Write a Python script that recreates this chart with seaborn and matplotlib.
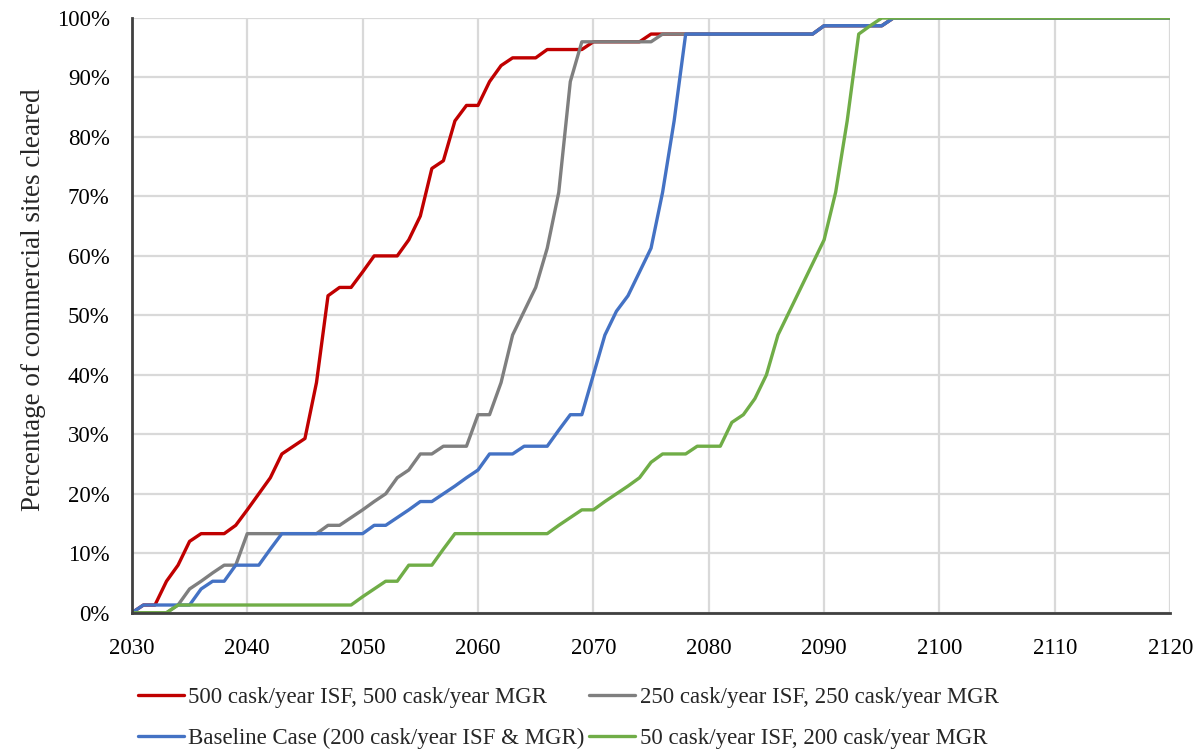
import pandas as pd
import seaborn as sns
import matplotlib.pyplot as plt
from matplotlib.ticker import PercentFormatter

sns.set_theme(style='whitegrid')
plt.rcParams['font.family'] = ['Liberation Serif', 'DejaVu Serif']

# breakpoints (year, % of commercial sites cleared)
red_years = [2030, 2031, 2032, 2033, 2034, 2035, 2036, 2038, 2039, 2040, 2041, 2042,
             2043, 2044, 2045, 2046, 2047, 2048, 2049, 2050, 2051, 2053, 2054, 2055,
             2056, 2057, 2058, 2059, 2060, 2061, 2062, 2063, 2065, 2066, 2069, 2070,
             2074, 2075, 2089, 2090, 2095, 2096, 2120]
red_pct = [0, 1.3, 1.3, 5.3, 8.0, 12.0, 13.3, 13.3, 14.7, 17.3, 20.0, 22.7,
           26.7, 28.0, 29.3, 38.7, 53.3, 54.7, 54.7, 57.3, 60.0, 60.0, 62.7, 66.7,
           74.7, 76.0, 82.7, 85.3, 85.3, 89.3, 92.0, 93.3, 93.3, 94.7, 94.7, 96.0,
           96.0, 97.3, 97.3, 98.7, 98.7, 100, 100]

gray_years = [2030, 2033, 2034, 2035, 2036, 2037, 2038, 2039, 2040, 2046, 2047, 2048,
              2049, 2050, 2051, 2052, 2053, 2054, 2055, 2056, 2057, 2059, 2060, 2061,
              2062, 2063, 2064, 2065, 2066, 2067, 2068, 2069, 2075, 2076, 2089, 2090,
              2095, 2096, 2120]
gray_pct = [0, 0, 1.3, 4.0, 5.3, 6.7, 8.0, 8.0, 13.3, 13.3, 14.7, 14.7,
            16.0, 17.3, 18.7, 20.0, 22.7, 24.0, 26.7, 26.7, 28.0, 28.0, 33.3, 33.3,
            38.7, 46.7, 50.7, 54.7, 61.3, 70.7, 89.3, 96.0, 96.0, 97.3, 97.3, 98.7,
            98.7, 100, 100]

blue_years = [2030, 2031, 2035, 2036, 2037, 2038, 2039, 2041, 2042, 2043, 2050, 2051,
              2052, 2053, 2054, 2055, 2056, 2057, 2058, 2059, 2060, 2061, 2063, 2064,
              2066, 2067, 2068, 2069, 2070, 2071, 2072, 2073, 2074, 2075, 2076, 2077,
              2078, 2089, 2090, 2095, 2096, 2120]
blue_pct = [0, 1.3, 1.3, 4.0, 5.3, 5.3, 8.0, 8.0, 10.7, 13.3, 13.3, 14.7,
            14.7, 16.0, 17.3, 18.7, 18.7, 20.0, 21.3, 22.7, 24.0, 26.7, 26.7, 28.0,
            28.0, 30.7, 33.3, 33.3, 40.0, 46.7, 50.7, 53.3, 57.3, 61.3, 70.7, 82.7,
            97.3, 97.3, 98.7, 98.7, 100, 100]

green_years = [2030, 2033, 2034, 2049, 2050, 2051, 2052, 2053, 2054, 2056, 2057, 2058,
               2066, 2067, 2068, 2069, 2070, 2071, 2072, 2073, 2074, 2075, 2076, 2078,
               2079, 2081, 2082, 2083, 2084, 2085, 2086, 2087, 2088, 2089, 2090, 2091,
               2092, 2093, 2094, 2095, 2120]
green_pct = [0, 0, 1.3, 1.3, 2.7, 4.0, 5.3, 5.3, 8.0, 8.0, 10.7, 13.3,
             13.3, 14.7, 16.0, 17.3, 17.3, 18.7, 20.0, 21.3, 22.7, 25.3, 26.7, 26.7,
             28.0, 28.0, 32.0, 33.3, 36.0, 40.0, 46.7, 50.7, 54.7, 58.7, 62.7, 70.7,
             82.7, 97.3, 98.7, 100, 100]

labels = ['500 cask/year ISF, 500 cask/year MGR',
          '250 cask/year ISF, 250 cask/year MGR',
          'Baseline Case (200 cask/year ISF & MGR)',
          '50 cask/year ISF, 200 cask/year MGR']
colors = ['#c00000', '#7f7f7f', '#4472c4', '#70ad47']

frames = []
for lab, yrs, pct in zip(labels,
                         [red_years, gray_years, blue_years, green_years],
                         [red_pct, gray_pct, blue_pct, green_pct]):
    frames.append(pd.DataFrame({'year': yrs, 'pct': pct, 'scenario': lab}))
df = pd.concat(frames, ignore_index=True)

fig = plt.figure(figsize=(11.99, 7.5), dpi=100)
ax = fig.add_axes([0.110, 0.183, 0.866, 0.793])

sns.lineplot(data=df, x='year', y='pct', hue='scenario', hue_order=labels,
             palette=colors, linewidth=2.4, estimator=None, sort=False,
             legend=False, ax=ax)

ax.set_xlim(2030, 2120)
ax.set_ylim(0, 100)
ax.set_xticks(range(2030, 2121, 10))
ax.set_yticks(range(0, 101, 10))
ax.yaxis.set_major_formatter(PercentFormatter(decimals=0))
ax.grid(True, color='#d9d9d9', linewidth=1.6)
ax.set_axisbelow(True)
for s in ['top', 'right']:
    ax.spines[s].set_visible(False)
for s in ['left', 'bottom']:
    ax.spines[s].set_color('#404040')
    ax.spines[s].set_linewidth(2)
ax.tick_params(labelsize=16.5, colors='black')
ax.tick_params(axis='x', pad=12)
ax.tick_params(axis='y', pad=10)
ax.set_xlabel('')
ax.set_ylabel('Percentage of commercial sites cleared', fontsize=19.5)
ax.yaxis.set_label_coords(-0.083, 0.526)

lines = ax.get_lines()
order = [0, 2, 1, 3]
fig.legend([lines[i] for i in order], [labels[i] for i in order],
           ncol=2, loc='upper left', bbox_to_anchor=(0.115, 0.084),
           frameon=False, fontsize=16.5, handlelength=2.0, handletextpad=0.2,
           columnspacing=0.2, labelspacing=0.85, borderpad=0, borderaxespad=0)

fig.savefig('out.png', dpi=100)
